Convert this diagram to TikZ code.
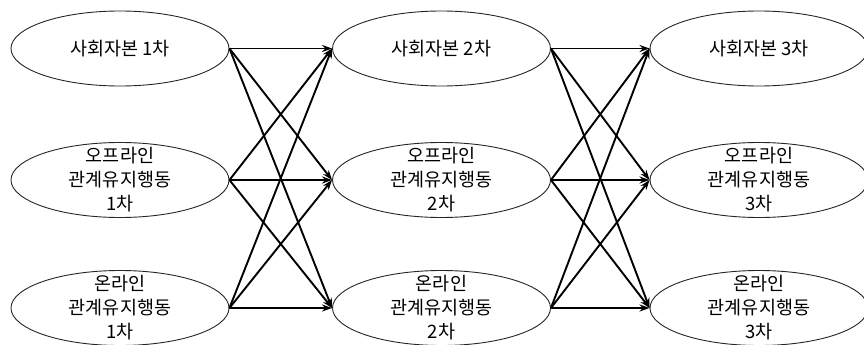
\documentclass[tikz,border=0pt]{standalone}
\usepackage{fontspec}
\setmainfont{Noto Sans CJK KR}
\usetikzlibrary{shapes.geometric,arrows.meta}
\begin{document}
\begin{tikzpicture}[x=1pt,y=-1pt,
  ell/.style={ellipse,draw=black!85,line width=0.9pt,minimum width=218pt,minimum height=75pt,inner sep=0pt},
  lbl/.style={align=center,font=\fontsize{18.5}{24}\selectfont,inner sep=0pt},
  arr/.style={line width=1.9pt,-{Stealth[length=10pt,width=7pt]}}]
\useasboundingbox (0,0) rectangle (864,345);
\fill[white] (0,0) rectangle (864,345);
% column 1
\node[ell] (a1) at (120,48.5) {};
\node[ell] (a2) at (120,180) {};
\node[ell] (a3) at (120,308) {};
% column 2
\node[ell] (b1) at (441.5,48.5) {};
\node[ell] (b2) at (441.5,180) {};
\node[ell] (b3) at (441.5,308) {};
% column 3
\node[ell] (c1) at (759,48.5) {};
\node[ell] (c2) at (759,180) {};
\node[ell] (c3) at (759,308) {};
% labels
\node[lbl] (ta1) at (a1) {사회자본 1차};
\node[lbl] (ta2) at (a2) {오프라인\\관계유지행동\\1차};
\node[lbl] (ta3) at (a3) {온라인\\관계유지행동\\1차};
\node[lbl] (tb1) at (b1) {사회자본 2차};
\node[lbl] (tb2) at (b2) {오프라인\\관계유지행동\\2차};
\node[lbl] (tb3) at (b3) {온라인\\관계유지행동\\2차};
\node[lbl] (tc1) at (c1) {사회자본 3차};
\node[lbl] (tc2) at (c2) {오프라인\\관계유지행동\\3차};
\node[lbl] (tc3) at (c3) {온라인\\관계유지행동\\3차};
% arrows
\foreach \s in {a1,a2,a3}{
  \foreach \t in {b1,b2,b3}{
    \draw[arr] (\s.east) -- (\t.west);
  }
}
\foreach \s in {b1,b2,b3}{
  \foreach \t in {c1,c2,c3}{
    \draw[arr] (\s.east) -- (\t.west);
  }
}
\end{tikzpicture}
\end{document}
